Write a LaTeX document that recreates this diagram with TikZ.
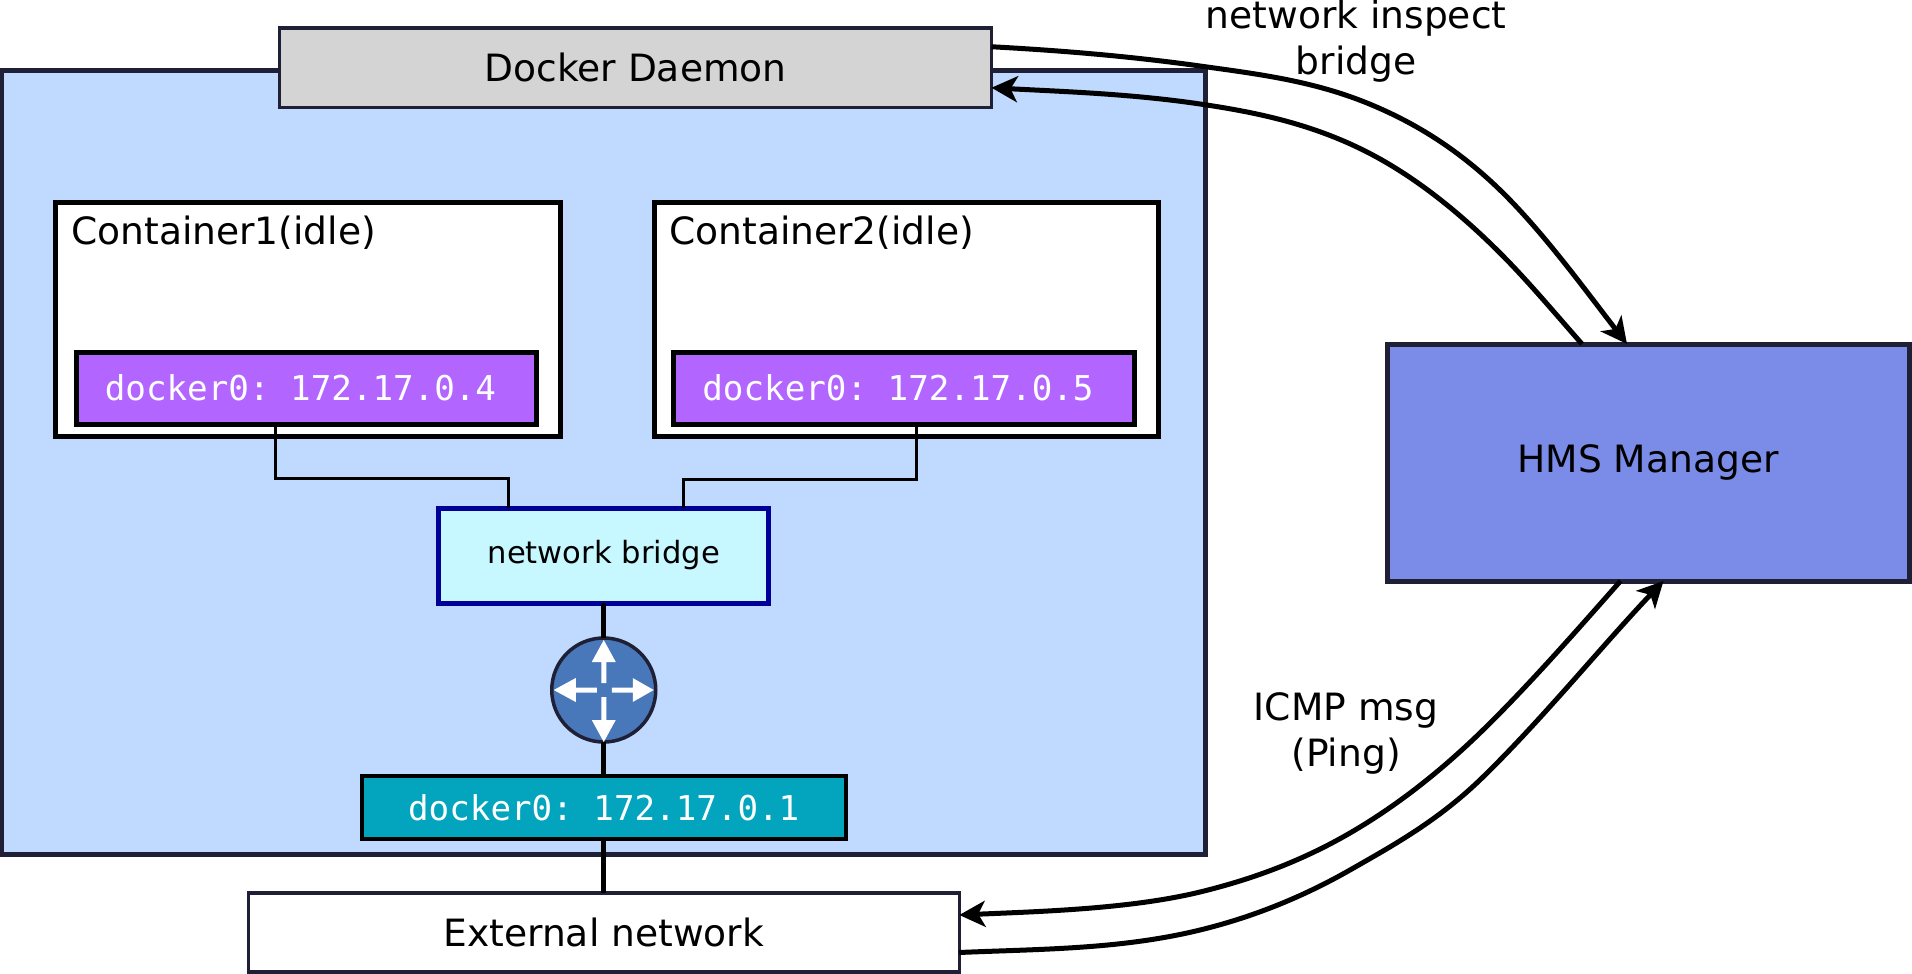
\documentclass[tikz,border=0pt]{standalone}
\usepackage{fontspec}
\setmainfont{DejaVu Sans}
\setmonofont{DejaVu Sans Mono}
\usetikzlibrary{arrows.meta}
\definecolor{edgedark}{HTML}{1F2035}
\definecolor{outerfill}{HTML}{BFD9FF}
\definecolor{daemonfill}{HTML}{D4D4D4}
\definecolor{purplefill}{HTML}{B266FF}
\definecolor{tealfill}{HTML}{02A5BD}
\definecolor{bridgefill}{HTML}{C7F8FF}
\definecolor{bridgeedge}{HTML}{000099}
\definecolor{hmsfill}{HTML}{7B8BE8}
\definecolor{routerfill}{HTML}{4877BA}
\tikzset{
  px/.style={x=1pt,y=-1pt},
  boxbase/.style={rectangle,draw,outer sep=0pt,inner sep=0pt,text=black,font=\fontsize{37.6}{46}\selectfont},
  darkbox/.style={boxbase,draw=edgedark,line width=3.5pt},
  heavybox/.style={boxbase,draw=edgedark,line width=5pt},
  blackbox/.style={boxbase,draw=black,line width=5pt,fill=white},
  portbox/.style={boxbase,draw=black,line width=5pt,text=white,font=\fontsize{34.2}{40}\ttfamily},
  flabel/.style={inner sep=0pt,align=center,font=\fontsize{37.6}{46}\selectfont},
  thinwire/.style={draw=black,line width=3pt},
  thickwire/.style={draw=black,line width=5pt},
  flow/.style={draw=black,line width=5pt,-{Stealth[length=26pt,width=26pt,inset=7pt]}},
}
\begin{document}
\begin{tikzpicture}[px]
\useasboundingbox (0,0) rectangle (1912,974);
\clip (0,0) rectangle (1912,974);
\node[heavybox,fill=outerfill,minimum width=1203.5pt,minimum height=783pt] (outer) at (603.25,462.5) {};
\node[darkbox,fill=daemonfill,minimum width=712pt,minimum height=79.5pt] (daemon) at (635.5,67.75) {Docker Daemon};
\node[blackbox,minimum width=505pt,minimum height=234pt] (c1) at (308,319.5) {};
\node[blackbox,minimum width=504.5pt,minimum height=234pt] (c2) at (906.25,319.5) {};
\node[flabel,anchor=base west] (c1label) at (71,244) {Container1(idle)};
\node[flabel,anchor=base west] (c2label) at (669,244) {Container2(idle)};
\node[portbox,fill=purplefill,minimum width=460pt,minimum height=72pt] (inner1) at (306,388) {\raisebox{1pt}{docker0: 172.17.0.4}\hspace*{11pt}};
\node[portbox,fill=purplefill,minimum width=461pt,minimum height=72pt] (inner2) at (903.5,388) {\raisebox{1pt}{docker0: 172.17.0.5}\hspace*{11pt}};
\node[boxbase,draw=bridgeedge,line width=5pt,fill=bridgefill,minimum width=330pt,minimum height=95pt,font=\fontsize{30.6}{36}\selectfont] (bridge) at (603.75,555.5) {network bridge};
\node[circle,draw=edgedark,line width=3.5pt,fill=routerfill,minimum size=104pt,inner sep=0pt,outer sep=0pt] (router) at (603.75,690) {};
\node[portbox,draw=black,line width=4pt,fill=tealfill,minimum width=484.5pt,minimum height=63pt] (teal) at (603.75,807.5) {docker0: 172.17.0.1};
\node[darkbox,fill=white,minimum width=711pt,minimum height=79pt] (external) at (603.75,932.5) {External network};
\node[heavybox,fill=hmsfill,minimum width=522pt,minimum height=237pt] (hms) at (1648,462.5) {\raisebox{-1.5pt}{HMS Manager}};
% router arrows
\begin{scope}[shift={(router.center)},fill=white]
\fill (0,-50) -- (12,-28) -- (2.5,-28) -- (2.5,-7) -- (-2.5,-7) -- (-2.5,-28) -- (-12,-28) -- cycle;
\fill (0,52) -- (12,30) -- (2.5,30) -- (2.5,7) -- (-2.5,7) -- (-2.5,30) -- (-12,30) -- cycle;
\fill (-50,0) -- (-28,-12) -- (-28,-2.5) -- (-7,-2.5) -- (-7,2.5) -- (-28,2.5) -- (-28,12) -- cycle;
\fill (50,0) -- (29,-12) -- (29,-2.5) -- (8,-2.5) -- (8,2.5) -- (29,2.5) -- (29,12) -- cycle;
\end{scope}
% wires
\coordinate (b1) at (508,478);
\coordinate (b2) at (683,479);
\draw[thinwire] ([xshift=-31pt]inner1.south) |- (b1) -- ([xshift=-95.75pt]bridge.north);
\draw[thinwire] ([xshift=13pt]inner2.south) |- (b2) -- ([xshift=79.25pt]bridge.north);
\draw[thickwire] (bridge.south) -- (router.north);
\draw[thickwire] (router.south) -- (teal.north);
\draw[thickwire] (teal.south) -- (external.north);
% flows
\draw[flow] ([yshift=21pt]daemon.east)
  .. controls (1061,50.5) and (1130.5,56.3) .. (1200,66)
  .. controls (1255.7,73.8) and (1311.3,80.4) .. (1367,103)
  .. controls (1411.3,121) and (1455.7,147) .. (1500,190)
  .. controls (1542.3,231) and (1584.7,289.3) .. ([xshift=-21pt]hms.north);
\draw[flow] ([xshift=-66pt]hms.north)
  .. controls (1554.7,313) and (1527.3,280.3) .. (1500,253)
  .. controls (1455.7,208.7) and (1411.3,174.6) .. (1367,152)
  .. controls (1311.3,123.6) and (1255.7,112.2) .. (1200,104)
  .. controls (1130.5,93.7) and (1061,91.5) .. ([yshift=-20pt]daemon.east);
\draw[flow] ([xshift=-27.5pt]hms.south)
  .. controls (1574.7,632.8) and (1528.8,685.2) .. (1483,730)
  .. controls (1438.7,773.3) and (1394.3,807.3) .. (1350,833)
  .. controls (1300,862) and (1250,879.8) .. (1200,892)
  .. controls (1130,909) and (1040,911.5) .. ([yshift=17.5pt]external.east);
\draw[flow] ([yshift=-20pt]external.east)
  .. controls (1040,949) and (1120,949.5) .. (1200,930)
  .. controls (1250,917.8) and (1300,898.5) .. (1350,870)
  .. controls (1394.3,844.7) and (1438.7,820.3) .. (1483,777)
  .. controls (1543,718.4) and (1603.5,644) .. ([xshift=15.5pt]hms.south);
% labels
\node[flabel] (toplabel) at (1356,41) {network inspect\\bridge};
\node[flabel] (icmp) at (1346,733) {ICMP msg\\(Ping)};
\end{tikzpicture}
\end{document}
